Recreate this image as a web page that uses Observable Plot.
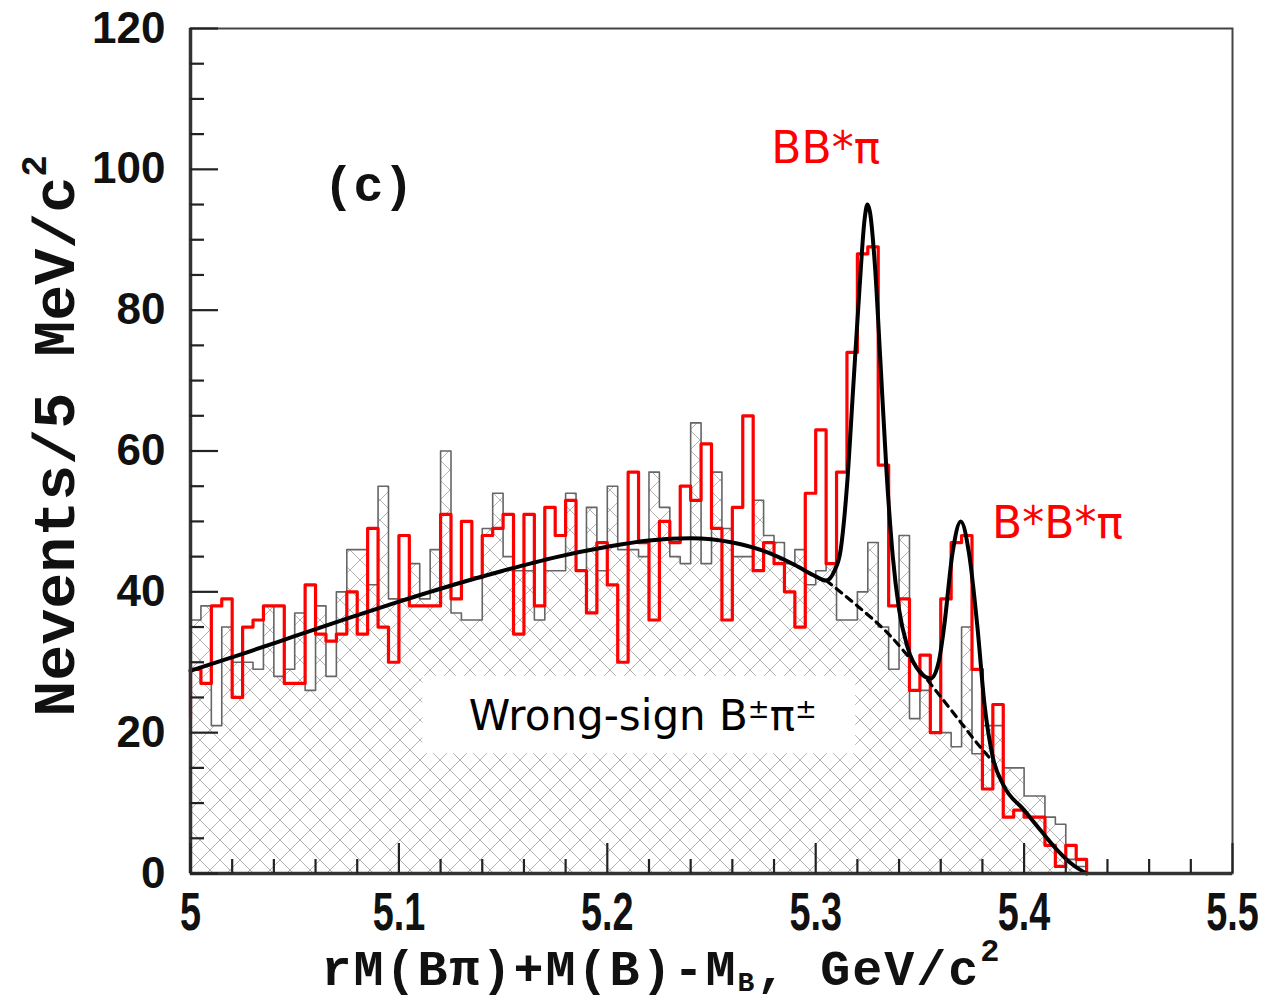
<!DOCTYPE html>
<html><head><meta charset="utf-8">
<script src="https://cdn.jsdelivr.net/npm/d3@7"></script>
<script src="https://cdn.jsdelivr.net/npm/@observablehq/plot@0.6"></script>
<style>body{margin:0;background:#fff}#chart svg{display:block}</style>
</head><body><div id="chart"></div>
<script>
// ---- data ----
const binStart = 5.0, binWidth = 0.005;
const redCounts = [29,27,38,39,25,35,36,38,38,27, 27,41,34,33,34,40,34,49,35,30,
  48,38,38,38,51,39,50,42,48,49, 51,34,51,38,52,48,53,43,37,47,
  41,30,57,47,36,50,47,55,53,61, 49,36,52,65,43,47,44,40,35,54,
  63,44,57,74,88,89,58,38,39,26, 31,20,39,47,48,29,12,24,8,9,
  8,8,4,1,4,2];
const redLeftStart = 22;
const greyCounts = [36,38,21,35,30,30,29,38,28,29, 37,26,38,28,40,46,46,41,55,39,
  39,44,39,46,60,37,36,36,49,54, 45,43,43,36,43,43,54,43,52,43,
  55,46,46,45,57,52,45,44,64,44, 57,49,45,45,53,48,47,44,46,41,
  43,44,36,36,40,47,35,29,48,22, 26,20,20,18,35,17,21,21,15,15,
  11,11,8,7,2,1];
const fitX = [5.000,5.025,5.050,5.075,5.100,5.125,5.150,5.175,5.200,5.220,5.240,5.260,5.275,5.290,5.300,5.305,
  5.309,5.312,5.315,5.318,5.321,5.3235,5.3248,5.326,5.3285,5.331,5.334,5.337,5.340,5.344,5.350,5.3552,
  5.359,5.3616,5.3656,5.3696,5.3736,5.3776,5.381,5.385,5.390,5.400,5.408,5.416,5.424,5.430];
const fitY = [28.8,31.2,33.7,36.2,38.6,40.9,43.0,44.9,46.4,47.3,47.6,47.0,45.8,43.8,42.2,41.6,
  43,46,55,69,83,93,95,94,86,73,57,45,37.5,32.2,28.6,27.7,
  30,35,45.4,50,45.4,35,24,16.5,12.6,9.0,6.1,3.3,1.1,0];
const bgX = [5.305,5.320,5.335,5.350,5.365,5.380,5.385];
const bgY = [41.6,38.0,34.0,28.8,23.2,17.6,15.9];
const xMajor = [5, 5.1, 5.2, 5.3, 5.4, 5.5];
const yMajor = [0, 20, 40, 60, 80, 100, 120];
const panelTag = [{x: 5.0854, y: 97.8, label: "(c)"}];
const peakLabels = [{x: 5.3048, y: 102.9, label: "BB*π"}, {x: 5.416, y: 49.6, label: "B*B*π"}];
const wsBox = [{x1: 5.1115, x2: 5.3192, y1: 17.0, y2: 28.0}];
const wsLabel = [{x: 5.217, y: 22.3, label: "Wrong-sign B±π±"}];
const yTitle = "Nevents/5 MeV/c2";
const xTitle = "rM(Bπ)+M(B)-MB, GeV/c2";

// ---- layout ----
const W = 1268, H = 1003, mL = 190, mR = 36, mT = 28, mB = 130;
const frameW = W - mL - mR, frameH = H - mT - mB;
const xMinor = d3.range(0, 26).map(i => +(5 + i * 0.02).toFixed(2)).filter(v => !xMajor.includes(v));
const yMinor = d3.range(0, 121, 5).filter(v => v % 20);

function histPoints(counts, startValue) {
  const pts = [];
  if (startValue != null) pts.push({x: binStart, y: startValue});
  counts.forEach((c, i) => pts.push({x: binStart + i * binWidth, y: c}));
  pts.push({x: binStart + counts.length * binWidth, y: 0});
  return pts;
}
const redPts = histPoints(redCounts, redLeftStart);
const greyPts = histPoints(greyCounts, null);
const fitPts = fitX.map((x, i) => ({x, y: fitY[i]}));
const bgPts = bgX.map((x, i) => ({x, y: bgY[i]}));

const comic = "'DejaVu Sans', 'Noto Sans', sans-serif";
const mono = "'Liberation Mono', 'DejaVu Sans Mono', monospace";
const sans = "'Liberation Sans', Arial, sans-serif";

const plot = Plot.plot({
  width: W, height: H, marginLeft: mL, marginRight: mR, marginTop: mT, marginBottom: mB,
  x: {domain: [5, 5.5], ticks: xMajor, tickSize: 0, tickPadding: 18, tickFormat: d => String(+d.toFixed(1)), label: null},
  y: {domain: [0, 120], ticks: yMajor, tickSize: 0, tickPadding: 25, label: null},
  style: {fontFamily: sans, fontWeight: "bold", fontSize: "44px", color: "#111", background: "white"},
  marks: [
    Plot.areaY(greyPts, {x: "x", y: "y", curve: "step-after", fill: "url(#xhatch)"}),
    Plot.rect(wsBox, {x1: "x1", x2: "x2", y1: "y1", y2: "y2", fill: "white"}),
    Plot.line(greyPts, {x: "x", y: "y", curve: "step-after", stroke: "#666", strokeWidth: 1.6}),
    Plot.line(redPts, {x: "x", y: "y", curve: "step-after", stroke: "#ff0000", strokeWidth: 3.2}),
    Plot.line(bgPts, {x: "x", y: "y", curve: "monotone-x", stroke: "black", strokeWidth: 3.2, strokeDasharray: "7,6"}),
    Plot.line(fitPts, {x: "x", y: "y", curve: "monotone-x", stroke: "black", strokeWidth: 4}),
    Plot.frame({stroke: "#444", strokeWidth: 2}),
    Plot.ruleX([5], {stroke: "#333", strokeWidth: 3.5}),
    Plot.ruleY([0], {stroke: "#333", strokeWidth: 3.5}),
    Plot.tickX(xMajor, {x: d => d, insetTop: frameH - 30, stroke: "#222", strokeWidth: 2.2}),
    Plot.tickX(xMinor, {x: d => d, insetTop: frameH - 14, stroke: "#222", strokeWidth: 2.2}),
    Plot.tickY(yMajor, {y: d => d, insetRight: frameW - 28, stroke: "#222", strokeWidth: 2.2}),
    Plot.tickY(yMinor, {y: d => d, insetRight: frameW - 14, stroke: "#222", strokeWidth: 2.2}),
    Plot.text(panelTag, {x: "x", y: "y", text: "label", fontSize: 50, fontWeight: "bold", fontFamily: mono, fill: "#111"}),
    Plot.text(peakLabels, {x: "x", y: "y", text: "label", fontSize: 44, fontWeight: "normal", fontFamily: comic, fill: "#ff0000"}),
    Plot.text(wsLabel, {x: "x", y: "y", text: "label", fontSize: 42, fontWeight: "normal", fontFamily: comic, fill: "black"}),
    Plot.text([yTitle], {frameAnchor: "left", textAnchor: "middle", lineAnchor: "middle", dx: -136, dy: -15, rotate: -90, text: d => d, fontSize: 60, fontWeight: "bold", fontFamily: mono, fill: "#111"}),
    Plot.text([xTitle], {frameAnchor: "bottom", textAnchor: "middle", lineAnchor: "middle", dx: -50, dy: 95, text: d => d, fontSize: 50, fontWeight: "bold", fontFamily: mono, fill: "#111"})
  ]
});

const svg = d3.select(plot);
svg.insert("defs", ":first-child").html(
  '<pattern id="xhatch" patternUnits="userSpaceOnUse" width="20" height="20">' +
  '<path d="M-5,-5L25,25M25,-5L-5,25M-5,15L5,25M15,-5L25,5M15,25L25,15M-5,5L5,-5" stroke="#b4b4b4" stroke-width="1" fill="none"/></pattern>');

function rich(content, parts) {
  const t = svg.selectAll("text").filter(function() { return this.textContent === content; });
  t.text(null);
  let shift = 0;
  for (const p of parts) {
    const ts = t.append("tspan").text(p.t);
    const target = p.shift || 0;
    if (p.size) ts.attr("font-size", p.size);
    if (target !== shift) { ts.attr("dy", target - shift); shift = target; }
  }
  return t;
}
rich(wsLabel[0].label, [{t: "Wrong-sign B"}, {t: "±", size: 26, shift: -12}, {t: "π"}, {t: "±", size: 26, shift: -12}]);
rich(yTitle, [{t: "Nevents/5 MeV/c"}, {t: "2", size: 36, shift: -28}]);
rich(xTitle, [{t: "rM(Bπ)+M(B)-M"}, {t: "B", size: 28, shift: 6}, {t: ", GeV/c"}, {t: "2", size: 32, shift: -24}])
  .attr("letter-spacing", "2px");

// x tick labels: tall condensed digits as in the reference
svg.selectAll('g[aria-label="x-axis tick label"] text').each(function() {
  const el = d3.select(this);
  el.attr("font-size", 54);
  const tr = el.attr("transform") || "";
  el.attr("transform", tr + " scale(0.7,1)");
});

document.getElementById("chart").append(plot);
</script>
</body></html>
